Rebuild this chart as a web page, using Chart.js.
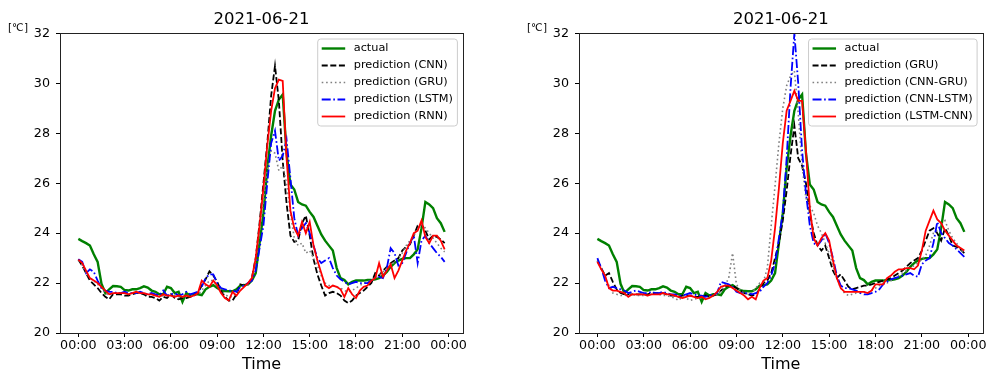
<!DOCTYPE html>
<html>
<head>
<meta charset="utf-8">
<script src="https://cdn.jsdelivr.net/npm/chart.js@4.4.0/dist/chart.umd.min.js"></script>
<style>
    html, body { margin: 0; padding: 0; background: #fff; }
    #wrap { position: relative; width: 991px; height: 375px; overflow: hidden; }
    .panel { position: absolute; top: 0; height: 375px; }
    #left { left: 0; width: 495px; }
    #right { left: 519px; width: 472px; }
</style>
</head>
<body>
<div id="wrap">
    <div class="panel" id="left"><canvas id="chartLeft" width="495" height="375"></canvas></div>
    <div class="panel" id="right"><canvas id="chartRight" width="472" height="375"></canvas></div>
</div>
<script>
const dateTitle = "2021-06-21";
const unitLabel = "[℃]";
const xTitle = "Time";

const tickHours = [0, 3, 6, 9, 12, 15, 18, 21, 24];
const tickLabels = ["00:00", "03:00", "06:00", "09:00", "12:00", "15:00", "18:00", "21:00", "00:00"];

// one sample every 15 minutes, 00:00 .. 23:45
const times = Array.from({ length: 96 }, (_, i) => i * 0.25);

const actual = [
    23.77, 23.68, 23.6, 23.5, 23.15, 22.85, 21.97, 21.6,
    21.75, 21.88, 21.87, 21.85, 21.72, 21.7, 21.75, 21.75,
    21.8, 21.87, 21.82, 21.7, 21.65, 21.55, 21.55, 21.85,
    21.8, 21.6, 21.65, 21.25, 21.6, 21.5, 21.55, 21.55,
    21.52, 21.75, 21.85, 21.92, 21.8, 21.72, 21.68, 21.67,
    21.67, 21.75, 21.9, 21.92, 21.95, 22.1, 22.4, 23.6,
    24.8, 26.6, 27.9, 28.9, 29.35, 29.55, 27.2, 25.95,
    25.75, 25.25, 25.15, 25.1, 24.85, 24.65, 24.3, 23.95,
    23.7, 23.5, 23.3, 22.6, 22.2, 22.12, 21.95, 22.05,
    22.1, 22.1, 22.1, 22.12, 22.12, 22.15, 22.2, 22.3,
    22.45, 22.65, 22.8, 22.9, 22.97, 23.0, 23.0, 23.15,
    23.35, 24.2, 25.25, 25.15, 25.0, 24.6, 24.4, 24.05
];

// left panel predictions
const cnnLeft = [
    22.94, 22.7, 22.4, 22.1, 21.95, 21.8, 21.6, 21.45,
    21.35, 21.55, 21.55, 21.55, 21.5, 21.5, 21.55, 21.6,
    21.6, 21.55, 21.45, 21.45, 21.4, 21.3, 21.45, 21.4,
    21.55, 21.4, 21.35, 21.4, 21.4, 21.45, 21.5, 21.6,
    21.9, 22.15, 22.47, 22.3, 22.05, 21.7, 21.45, 21.3,
    21.3, 21.55, 21.95, 21.9, 21.95, 22.2, 23.0, 24.4,
    26.0, 27.6, 29.5, 30.7, 29.3, 26.9, 25.2, 23.9,
    23.65, 23.7, 24.4, 24.7, 23.9, 22.95, 22.35, 21.9,
    21.5, 21.6, 21.65, 21.6, 21.5, 21.3, 21.2, 21.3,
    21.5, 21.6, 21.7, 21.85, 22.0, 22.4, 22.3, 22.5,
    22.65, 22.8, 22.9, 23.0, 23.3, 23.45, 23.55, 23.9,
    24.3, 24.35, 24.1, 23.75, 23.9, 23.85, 23.75, 23.6
];

const gruLeft = [
    22.9, 22.7, 22.4, 22.2, 22.1, 21.95, 21.8, 21.6,
    21.5, 21.6, 21.6, 21.6, 21.6, 21.55, 21.6, 21.6,
    21.6, 21.6, 21.55, 21.5, 21.5, 21.45, 21.5, 21.5,
    21.55, 21.5, 21.45, 21.45, 21.5, 21.5, 21.5, 21.55,
    21.7, 21.9, 22.1, 22.1, 21.9, 21.7, 21.55, 21.45,
    21.45, 21.6, 21.85, 21.9, 21.95, 22.15, 22.9, 24.1,
    25.3, 26.5, 27.3, 27.2, 26.5, 26.7, 26.0, 24.8,
    23.8, 23.5, 23.6, 23.2, 23.3, 23.0, 22.7, 22.3,
    22.0, 21.9, 21.9, 21.85, 21.8, 21.7, 21.65, 21.7,
    21.8, 21.9, 22.0, 22.05, 22.1, 22.2, 22.3, 22.45,
    22.6, 22.7, 22.85, 23.0, 23.2, 23.5, 23.7, 23.9,
    24.2, 24.35, 24.2, 24.0, 23.8, 23.6, 23.4, 23.25
];

const lstmLeft = [
    22.95, 22.85, 22.4, 22.55, 22.45, 22.1, 21.8, 21.7,
    21.65, 21.65, 21.6, 21.6, 21.65, 21.6, 21.6, 21.6,
    21.65, 21.6, 21.55, 21.6, 21.55, 21.5, 21.7, 21.5,
    21.55, 21.6, 21.5, 21.55, 21.65, 21.55, 21.6, 21.65,
    21.85, 22.2, 22.35, 22.35, 22.0, 21.8, 21.75, 21.7,
    21.7, 21.65, 21.85, 21.9, 22.0, 22.1, 22.5, 23.4,
    24.3, 26.0, 27.6, 28.1, 26.9, 27.1, 27.75, 26.2,
    24.6, 23.9, 24.2, 24.4, 24.0, 23.5, 23.0, 22.8,
    22.9, 23.0, 22.6, 22.3, 22.15, 22.05, 21.95, 22.0,
    22.05, 22.0, 22.0, 22.0, 22.1, 22.2, 22.25, 22.2,
    22.6, 23.4, 23.2, 22.7, 22.8, 23.2, 23.6, 23.9,
    22.8, 23.7, 23.9, 23.6, 23.4, 23.2, 23.05, 22.85
];

const rnnLeft = [
    22.94, 22.8, 22.5, 22.2, 22.1, 22.0, 21.85, 21.7,
    21.55, 21.6, 21.6, 21.6, 21.6, 21.55, 21.6, 21.65,
    21.6, 21.6, 21.55, 21.55, 21.5, 21.45, 21.55, 21.5,
    21.5, 21.45, 21.5, 21.45, 21.5, 21.45, 21.5, 21.6,
    22.1, 21.95, 21.85, 22.1, 21.9, 21.6, 21.4, 21.3,
    21.65, 21.5, 21.7, 21.85, 22.0, 22.2, 23.0, 24.3,
    25.8, 27.5, 28.9, 29.8, 30.15, 30.1, 27.0, 24.9,
    24.2, 23.9, 24.45, 24.0, 24.45, 23.5, 22.9, 22.4,
    21.9, 21.8, 21.9, 21.85, 21.75, 21.45, 21.8, 21.55,
    21.4, 21.7, 21.85, 21.9, 22.1, 22.2, 22.8, 22.25,
    22.5, 22.75, 22.2, 22.5, 22.9, 23.3, 23.6, 24.0,
    24.1, 24.5, 23.85, 23.6, 23.9, 23.9, 23.7, 23.35
];

// right panel predictions
const gruRight = [
    22.9, 22.6, 22.3, 22.4, 22.05, 21.75, 21.6, 21.55,
    21.55, 21.55, 21.55, 21.55, 21.55, 21.55, 21.6, 21.6,
    21.6, 21.6, 21.55, 21.5, 21.5, 21.45, 21.5, 21.5,
    21.5, 21.45, 21.45, 21.45, 21.5, 21.45, 21.5, 21.55,
    21.7, 21.85, 21.9, 21.9, 21.8, 21.7, 21.6, 21.55,
    21.5, 21.55, 21.75, 22.0, 22.1, 22.4, 23.0, 23.6,
    24.5, 25.7, 27.1, 28.3, 27.0, 26.7, 26.0, 24.8,
    24.0, 23.5, 23.3, 23.5, 23.0, 22.5, 22.2, 22.35,
    22.1, 21.85, 21.75, 21.8, 21.85, 21.9, 21.9, 21.95,
    22.0, 22.05, 22.1, 22.15, 22.2, 22.3, 22.4, 22.5,
    22.65, 22.8, 22.9, 23.0, 23.3, 23.7, 24.1, 24.2,
    24.0, 23.7, 24.2, 23.9, 23.5, 23.45, 23.35, 23.2
];

const cnnGruRight = [
    22.9, 22.6, 22.2, 21.9, 21.6, 21.55, 21.5, 21.5,
    21.55, 21.55, 21.5, 21.5, 21.5, 21.5, 21.55, 21.55,
    21.55, 21.5, 21.5, 21.45, 21.4, 21.3, 21.45, 21.4,
    21.3, 21.35, 21.4, 21.4, 21.45, 21.4, 21.5, 21.55,
    21.7, 21.9, 22.2, 23.2, 21.95, 21.7, 21.6, 21.55,
    21.6, 21.8, 22.0, 22.05, 22.6, 24.3, 25.9, 27.6,
    29.0, 29.9, 30.3, 30.5, 28.8, 26.7, 25.4, 25.1,
    24.8, 24.3, 24.0, 23.6, 23.2, 22.7, 22.2, 21.8,
    21.6, 21.5, 21.55, 21.6, 21.6, 21.65, 21.6, 21.7,
    21.8, 21.9, 22.0, 22.0, 22.1, 22.2, 22.3, 22.4,
    22.5, 22.6, 22.7, 22.8, 22.95, 23.1, 23.5, 24.0,
    24.1, 24.3, 24.5, 24.1, 23.8, 23.6, 23.35, 23.2
];

const cnnLstmRight = [
    23.0, 22.6, 22.1, 21.8, 21.85, 21.8, 21.75, 21.7,
    21.6, 21.65, 21.7, 21.65, 21.6, 21.6, 21.65, 21.6,
    21.6, 21.65, 21.6, 21.55, 21.55, 21.5, 21.5, 21.55,
    21.6, 21.55, 21.5, 21.5, 21.45, 21.5, 21.55, 21.6,
    22.05, 22.0, 21.95, 21.85, 21.65, 21.6, 21.6, 21.6,
    21.55, 21.6, 21.65, 21.85, 22.0, 22.3, 22.8, 23.8,
    24.8, 27.0, 29.8, 32.0, 30.0, 27.3, 25.6, 24.3,
    23.6, 23.5, 23.7, 24.0, 23.6, 23.0, 22.3, 21.9,
    21.8, 21.8, 21.75, 21.7, 21.6, 21.55, 21.55, 21.6,
    21.65, 21.75, 21.95, 22.05, 22.15, 22.2, 22.25, 22.3,
    22.35, 22.4, 22.3, 22.25, 22.75, 22.9, 23.0, 23.6,
    24.45, 24.0, 23.8, 23.6, 23.5, 23.35, 23.2, 23.05
];

const lstmCnnRight = [
    22.85, 22.55, 22.3, 21.8, 21.7, 21.7, 21.65, 21.6,
    21.45, 21.55, 21.55, 21.55, 21.55, 21.5, 21.55, 21.55,
    21.55, 21.6, 21.55, 21.55, 21.5, 21.45, 21.4, 21.45,
    21.5, 21.45, 21.4, 21.45, 21.35, 21.4, 21.5, 21.65,
    21.85, 21.9, 21.9, 21.8, 21.7, 21.6, 21.5, 21.35,
    21.45, 21.35, 21.8, 22.1, 22.2, 22.9, 24.2, 25.8,
    27.6, 28.9, 29.3, 29.7, 29.3, 29.3, 27.3, 25.0,
    23.8, 23.5, 23.8, 24.0, 23.7, 22.9, 22.2, 21.8,
    21.65, 21.65, 21.65, 21.65, 21.65, 21.65, 21.6, 21.7,
    21.95, 21.95, 21.95, 22.2, 22.3, 22.45, 22.55, 22.55,
    22.6, 22.6, 22.55, 22.7, 23.3, 24.1, 24.5, 24.9,
    24.55, 24.4, 24.1, 23.9, 23.7, 23.5, 23.4, 23.3
];

const leftLabels = ["actual", "prediction (CNN)", "prediction (GRU)", "prediction (LSTM)", "prediction (RNN)"];
const rightLabels = ["actual", "prediction (GRU)", "prediction (CNN-GRU)", "prediction (CNN-LSTM)", "prediction (LSTM-CNN)"];

// same matplotlib-like style slot for each legend position
const lineStyles = [
    { color: "#008000", width: 2.4, dash: [] },
    { color: "#000000", width: 1.8, dash: [6, 2.6] },
    { color: "#808080", width: 1.6, dash: [1.6, 2.8] },
    { color: "#0000ff", width: 1.8, dash: [9, 2.6, 1.6, 2.6] },
    { color: "#ff0000", width: 1.8, dash: [] }
];

const FONT = '"DejaVu Sans", sans-serif';
Chart.defaults.font.family = FONT;
Chart.defaults.color = "#000";

const framePlugin = {
    id: "frame",
    afterDatasetsDraw(chart) {
        const { ctx, chartArea } = chart;
        const { left, top, right, bottom } = chartArea;

        ctx.save();
        // axes box
        ctx.strokeStyle = "#222";
        ctx.lineWidth = 1;
        ctx.strokeRect(Math.round(left) + 0.5, Math.round(top) + 0.5,
            Math.round(right - left), Math.round(bottom - top));

        // unit label
        ctx.fillStyle = "#000";
        ctx.font = `10.5px ${FONT}`;
        ctx.textAlign = "left";
        ctx.textBaseline = "middle";
        ctx.fillText(unitLabel, left - 52, 28);

        // legend in upper right corner
        const fs = 11.3;
        const rowH = 17;
        ctx.font = `${fs}px ${FONT}`;
        const sets = chart.data.datasets;
        const textW = Math.max(...sets.map(d => ctx.measureText(d.label).width));
        const boxW = 36 + textW + 4.5;
        const boxH = 19 + rowH * (sets.length - 1);
        const bx = right - 5.6 - boxW;
        const by = top + 5.6;

        ctx.fillStyle = "rgba(255,255,255,0.8)";
        ctx.strokeStyle = "#cccccc";
        ctx.beginPath();
        ctx.roundRect(bx, by, boxW, boxH, 3);
        ctx.fill();
        ctx.stroke();

        sets.forEach((d, i) => {
            const y = by + 9.5 + i * rowH;
            ctx.beginPath();
            ctx.setLineDash(d.borderDash);
            ctx.strokeStyle = d.borderColor;
            ctx.lineWidth = d.borderWidth;
            ctx.moveTo(bx + 4, y);
            ctx.lineTo(bx + 27.5, y);
            ctx.stroke();
            ctx.setLineDash([]);
            ctx.fillStyle = "#000";
            ctx.fillText(d.label, bx + 36, y);
        });
        ctx.restore();
    }
};

function buildDatasets(seriesList, labels) {
    return seriesList.map((values, k) => ({
        label: labels[k],
        data: values.map((v, i) => ({ x: times[i], y: v })),
        borderColor: lineStyles[k].color,
        borderWidth: lineStyles[k].width,
        borderDash: lineStyles[k].dash,
        pointRadius: 0,
        tension: 0,
        fill: false,
        order: seriesList.length - k
    }));
}

function renderPanel(canvasId, seriesList, labels, padRight) {
    const ctx = document.getElementById(canvasId).getContext("2d");

    return new Chart(ctx, {
        type: "line",
        data: { datasets: buildDatasets(seriesList, labels) },
        options: {
            responsive: false,
            animation: false,
            devicePixelRatio: 1,
            layout: { padding: { left: 0, right: padRight, top: 0, bottom: 0 } },
            plugins: {
                legend: { display: false },
                tooltip: { enabled: false },
                title: {
                    display: true,
                    text: dateTitle,
                    fullSize: false,
                    color: "#000",
                    font: { size: 16.5, weight: "normal" },
                    padding: { top: 10, bottom: 3.6 }
                }
            },
            scales: {
                x: {
                    type: "linear",
                    min: -1.19,
                    max: 24.94,
                    afterFit: s => { s.height = 42; },
                    afterBuildTicks: s => { s.ticks = tickHours.map(v => ({ value: v })); },
                    grid: { drawOnChartArea: false, drawTicks: true, tickLength: 4, tickColor: "#000" },
                    border: { display: false },
                    ticks: {
                        autoSkip: false,
                        maxRotation: 0,
                        padding: 1.5,
                        color: "#000",
                        font: { size: 12.7 },
                        callback: v => tickLabels[tickHours.indexOf(v)]
                    },
                    title: {
                        display: true,
                        text: xTitle,
                        color: "#000",
                        font: { size: 16 },
                        padding: { top: 0, bottom: 1 }
                    }
                },
                y: {
                    min: 20,
                    max: 32,
                    afterFit: s => { s.width = 60; },
                    grid: { drawOnChartArea: false, drawTicks: true, tickLength: 4, tickColor: "#000" },
                    border: { display: false },
                    ticks: {
                        stepSize: 2,
                        padding: 6,
                        color: "#000",
                        font: { size: 12.7 }
                    }
                }
            }
        },
        plugins: [framePlugin]
    });
}

renderPanel("chartLeft", [actual, cnnLeft, gruLeft, lstmLeft, rnnLeft], leftLabels, 32);
renderPanel("chartRight", [actual, gruRight, cnnGruRight, cnnLstmRight, lstmCnnRight], rightLabels, 8.3);
</script>
</body>
</html>
